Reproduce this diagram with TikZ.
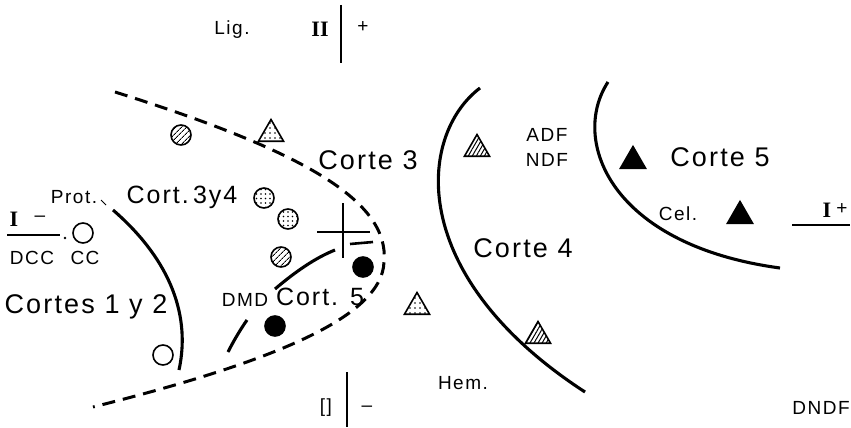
\documentclass[tikz,border=0pt]{standalone}
\usepackage{fontspec}
\setmainfont{Liberation Sans}[LetterSpace=8]
\newfontfamily\serifroman{Liberation Serif}
\usetikzlibrary{shapes.geometric,patterns.meta}
\tikzset{
  big/.style={font=\fontsize{27}{29}\selectfont, inner sep=0pt},
  mid/.style={font=\fontsize{25}{27}\selectfont, inner sep=0pt},
  small/.style={font=\fontsize{19}{21}\selectfont, inner sep=0pt},
  roman/.style={font=\fontsize{22}{24}\selectfont\serifroman\bfseries, inner sep=0pt},
  arcline/.style={line width=3.1pt},
  dashcurve/.style={line width=3pt, dash pattern=on 13pt off 8pt},
  thinline/.style={line width=1.6pt},
  sym/.style={circle, minimum size=20pt, inner sep=0pt, draw, line width=1.6pt},
  opencirc/.style={sym},
  hatchcirc/.style={sym, pattern={Lines[angle=45,distance=4pt,line width=1pt]}},
  dotcirc/.style={sym, pattern={Dots[radius=0.9pt,distance=4.5pt]}},
  darkcirc/.style={sym, fill=black},
  tri/.style={regular polygon, regular polygon sides=3, minimum size=29pt, inner sep=0pt, draw, line width=1.6pt},
  dottri/.style={tri, pattern={Dots[radius=0.9pt,distance=5pt]}},
  hatchtri/.style={tri, pattern={Lines[angle=60,distance=3.5pt,line width=1pt]}},
  blacktri/.style={tri, fill=black},
}
\begin{document}
\begin{tikzpicture}[x=1pt,y=-1pt]
\useasboundingbox (0,0) rectangle (851,428);

% axes labels top/bottom
\node[small] (lig) at (232,30) {Lig.};
\node[roman] (two) at (320,29) {II};
\coordinate (vt1) at (341,5);
\coordinate (vt2) at (341,63);
\draw[thinline] (vt1) -- (vt2);
\node[small] (plus) at (363,27) {+};
\node[small] (brk) at (326,408) {[]};
\coordinate (vb1) at (347,372);
\coordinate (vb2) at (347,427);
\draw[thinline] (vb1) -- (vb2);
\node[small] (minusb) at (367,409) {–};

% left axis
\node[roman] (oneL) at (14,219) {I};
\node[small] (minusL) at (40,219) {–};
\coordinate (hl1) at (7,235);
\coordinate (hl2) at (60,235);
\draw[thinline] (hl1) -- (hl2);
\fill (65,238) circle (1.3pt);
\node[small] (dcc) at (32,258) {DCC};
\node[small] (cc) at (85,258) {CC};

% right axis
\node[roman] (oneR) at (827,210) {I};
\node[small] (plusR) at (842,209) {+};
\coordinate (hr1) at (792,225);
\coordinate (hr2) at (850,225);
\draw[thinline] (hr1) -- (hr2);

% curves
\draw[dashcurve] (115,92) .. controls (300,150) and (390,200) .. (384,262)
                 .. controls (382,320) and (260,365) .. (93,407);
\draw[arcline] (113,210) .. controls (165,255) and (192,310) .. (179,370);
\draw[arcline] (480,88) .. controls (418,135) and (405,275) .. (585,392);
\draw[arcline] (608,82) .. controls (570,140) and (610,245) .. (780,268);
\draw[arcline] (228,352) .. controls (233,342) and (240,330) .. (247,320);
\draw[arcline] (275,289) .. controls (295,272) and (315,258) .. (335,250);
\draw[line width=2.6pt] (350,244) -- (373,242);
\draw[line width=0.8pt] (101,200) -- (106,205);

% crosshair
\draw[thinline] (343,203) -- (343,258);
\draw[thinline] (317,232) -- (370,232);

% texts
\node[small] (prot) at (74,197) {Prot.};
\node[mid] (c34) at (182,197) {Cort.\,3y4};
\node[big] (c12) at (86,307) {Cortes 1 y 2};
\node[big] (c3) at (368,160) {Corte 3};
\node[small] (adf) at (547,135) {ADF};
\node[small] (ndf) at (547,160) {NDF};
\node[big] (c5) at (720,157) {Corte 5};
\node[small] (cel) at (678,214) {Cel.};
\node[big] (c4) at (523,248) {Corte 4};
\node[small] (hem) at (463,383) {Hem.};
\node[small] (dndf) at (821,408) {DNDF};
\node[small] (dmd) at (245,300) {DMD};
\node[mid] (cort5) at (320,297) {Cort. 5};

% symbols
\node[opencirc] (o1) at (83,233) {};
\node[opencirc] (o2) at (163,355) {};
\node[hatchcirc] (h1) at (181,135) {};
\node[hatchcirc] (h2) at (281,257) {};
\node[dotcirc] (d1) at (264,198) {};
\node[dotcirc] (d2) at (288,219) {};
\node[darkcirc] (k1) at (363,267) {};
\node[darkcirc] (k2) at (275,326) {};
\node[dottri] (t1) at (271,134) {};
\node[dottri] (t2) at (417,307) {};
\node[hatchtri] (t3) at (477,149) {};
\node[hatchtri] (t4) at (538,336) {};
\node[blacktri] (t5) at (633,161) {};
\node[blacktri] (t6) at (740,216) {};
\end{tikzpicture}
\end{document}
